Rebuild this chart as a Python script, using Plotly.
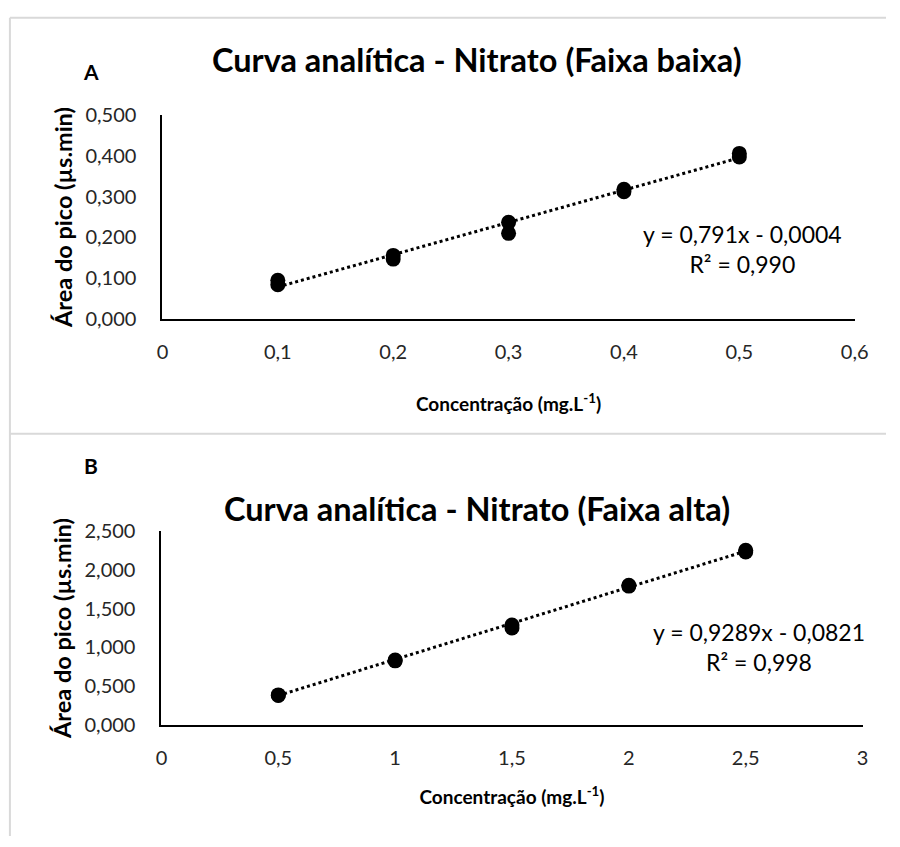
import plotly.graph_objects as go

# Low range calibration (duplicate injections per standard)
conc_low = [0.1, 0.1, 0.2, 0.2, 0.3, 0.3, 0.4, 0.4, 0.5, 0.5]
area_low = [0.095, 0.084, 0.156, 0.147, 0.237, 0.210, 0.318, 0.312, 0.406, 0.397]
slope_low, intercept_low, r2_low = 0.791, -0.0004, 0.990

# High range calibration
conc_high = [0.5, 0.5, 1.0, 1.0, 1.5, 1.5, 2.0, 2.0, 2.5, 2.5]
area_high = [0.390, 0.384, 0.840, 0.828, 1.290, 1.250, 1.800, 1.790, 2.250, 2.230]
slope_high, intercept_high, r2_high = 0.9289, -0.0821, 0.998

ticks_low_x = [0, 0.1, 0.2, 0.3, 0.4, 0.5, 0.6]
ticks_low_y = [0, 0.1, 0.2, 0.3, 0.4, 0.5]
ticks_high_x = [0, 0.5, 1, 1.5, 2, 2.5, 3]
ticks_high_y = [0, 0.5, 1.0, 1.5, 2.0, 2.5]

W, H = 900, 847
FONT = "Lato"


def px_x(p):
    return p / W


def px_y(p):
    return 1 - p / H


def fmt(v, nd):
    return f"{v:.{nd}f}".replace(".", ",")


def trend(xs, m, b):
    x0, x1 = min(xs), max(xs)
    return [x0, x1], [m * x0 + b, m * x1 + b]


fig = go.Figure()

fig.add_trace(go.Scatter(
    x=conc_low, y=area_low, mode="markers", xaxis="x", yaxis="y",
    marker=dict(color="black", size=15), showlegend=False, cliponaxis=False))
tx, ty = trend(conc_low, slope_low, intercept_low)
fig.add_trace(go.Scatter(
    x=tx, y=ty, mode="lines", xaxis="x", yaxis="y",
    line=dict(color="black", width=3, dash="dot"), showlegend=False))

fig.add_trace(go.Scatter(
    x=conc_high, y=area_high, mode="markers", xaxis="x2", yaxis="y2",
    marker=dict(color="black", size=15), showlegend=False, cliponaxis=False))
tx, ty = trend(conc_high, slope_high, intercept_high)
fig.add_trace(go.Scatter(
    x=tx, y=ty, mode="lines", xaxis="x2", yaxis="y2",
    line=dict(color="black", width=3, dash="dot"), showlegend=False))

tickfont = dict(family=FONT, size=20, color="#262626")
xtitle = "<b>Concentração (mg.L<sup>-1</sup>)</b>"
ytitle = "<b>Área do pico (µs.min)</b>"

common_x = dict(showgrid=False, zeroline=False, showline=True, linecolor="black",
                linewidth=2, ticks="", tickfont=tickfont, ticklabelstandoff=14)
common_y = dict(showgrid=False, zeroline=False, showline=True, linecolor="black",
                linewidth=2, ticks="", tickfont=tickfont, ticklabelstandoff=20)

fig.update_layout(
    width=W, height=H,
    margin=dict(l=0, r=0, t=0, b=0),
    paper_bgcolor="white", plot_bgcolor="white",
    font=dict(family=FONT, color="black"),
    xaxis=dict(common_x, domain=[px_x(160), px_x(868)], range=[0, 0.6],
               tickvals=ticks_low_x, ticktext=[fmt(v, 1) if v else "0" for v in ticks_low_x],
               anchor="y",
               title=dict(text=xtitle, font=dict(family=FONT, size=19), standoff=36)),
    yaxis=dict(common_y, domain=[px_y(315), px_y(105)], range=[0, 0.5],
               tickvals=ticks_low_y, ticktext=[fmt(v, 3) for v in ticks_low_y],
               anchor="x",
               title=dict(text=ytitle, font=dict(family=FONT, size=23.5), standoff=6)),
    xaxis2=dict(common_x, domain=[px_x(159), px_x(876)], range=[0, 3],
                tickvals=ticks_high_x, ticktext=[fmt(v, 1).replace(",0", "") for v in ticks_high_x],
                anchor="y2",
                title=dict(text=xtitle, font=dict(family=FONT, size=19), standoff=22)),
    yaxis2=dict(common_y, domain=[px_y(733), px_y(533)], range=[0, 2.5],
                tickvals=ticks_high_y, ticktext=[fmt(v, 3) for v in ticks_high_y],
                anchor="x2",
                title=dict(text=ytitle, font=dict(family=FONT, size=23.5), standoff=6)),
)

annotations = [
    dict(text="<b>Curva analítica - Nitrato (Faixa baixa)</b>", x=px_x(482), y=px_y(48),
         font=dict(family=FONT, size=32.5)),
    dict(text="<b>Curva analítica - Nitrato (Faixa alta)</b>", x=px_x(482), y=px_y(510),
         font=dict(family=FONT, size=32.5)),
    dict(text="<b>A</b>", x=px_x(87), y=px_y(60), font=dict(family=FONT, size=21)),
    dict(text="<b>B</b>", x=px_x(87), y=px_y(466), font=dict(family=FONT, size=21)),
    dict(text=f"y = {fmt(slope_low, 3)}x - {fmt(abs(intercept_low), 4)}<br>R² = {fmt(r2_low, 3)}",
         x=px_x(753), y=px_y(243), font=dict(family=FONT, size=23), align="center"),
    dict(text=f"y = {fmt(slope_high, 4)}x - {fmt(abs(intercept_high), 4)}<br>R² = {fmt(r2_high, 3)}",
         x=px_x(770), y=px_y(653), font=dict(family=FONT, size=23), align="center"),
]
for a in annotations:
    a.update(xref="paper", yref="paper", showarrow=False, xanchor="center", yanchor="middle")
fig.update_layout(annotations=annotations)

# light frame around the two chart panels
border = dict(color="#d9d9d9", width=2)
fig.update_layout(shapes=[
    dict(type="line", xref="paper", yref="paper", x0=px_x(4), x1=1, y0=px_y(5), y1=px_y(5), line=border),
    dict(type="line", xref="paper", yref="paper", x0=px_x(4), x1=px_x(4), y0=px_y(5), y1=0, line=border),
    dict(type="line", xref="paper", yref="paper", x0=px_x(4), x1=1, y0=px_y(433), y1=px_y(433), line=border),
])

fig.write_html("out.html")
